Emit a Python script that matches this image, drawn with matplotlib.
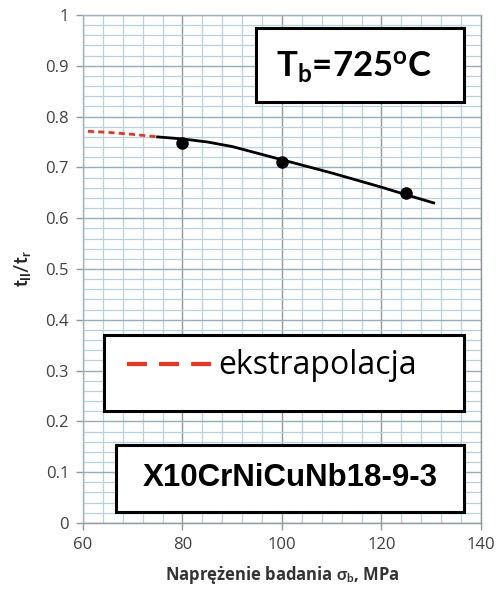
#!/usr/bin/env python3
"""
t_II/t_r versus test stress for X10CrNiCuNb18-9-3 at 725 C
"""

import matplotlib
matplotlib.use("Agg")
import matplotlib.pyplot as plt
from matplotlib.patches import Rectangle
from matplotlib.ticker import MultipleLocator

plt.rcParams['font.family'] = ['Lato', 'DejaVu Sans']
plt.rcParams['mathtext.fontset'] = 'custom'
plt.rcParams['mathtext.rm'] = 'Lato'
plt.rcParams['mathtext.it'] = 'Lato:italic'
plt.rcParams['mathtext.bf'] = 'Lato:bold'
plt.rcParams['mathtext.fallback'] = 'stixsans'

# measured points
stress_pts = [80, 100, 125]
ratio_pts = [0.748, 0.710, 0.650]

# fitted curve (solid black)
fit_x = [75, 80, 85, 90, 95, 100, 105, 110, 115, 120, 125, 130.5]
fit_y = [0.760, 0.756, 0.750, 0.741, 0.728, 0.715, 0.702, 0.689, 0.675, 0.661, 0.646, 0.630]

# extrapolation (red dashed)
extra_x = [61, 65, 70, 75]
extra_y = [0.771, 0.769, 0.765, 0.760]

x_ticks = [60, 80, 100, 120, 140]
y_ticks = [0, 0.1, 0.2, 0.3, 0.4, 0.5, 0.6, 0.7, 0.8, 0.9, 1]
y_labels = ['0', '0.1', '0.2', '0.3', '0.4', '0.5', '0.6', '0.7', '0.8', '0.9', '1']

temp_label = r'T$_\mathbf{b}$=725$^\mathbf{o}$C'
legend_label = 'ekstrapolacja'
material_label = 'X10CrNiCuNb18-9-3'

RED = '#f0321e'
TICK_COLOR = '#404040'

fig = plt.figure(figsize=(4.99, 5.90), dpi=100)
ax = fig.add_axes([0.1663, 0.1136, 0.7976, 0.8610])

ax.set_xlim(60, 140)
ax.set_ylim(0, 1)
ax.set_xticks(x_ticks)
ax.set_yticks(y_ticks)
ax.set_yticklabels(y_labels)
ax.xaxis.set_minor_locator(MultipleLocator(4))
ax.yaxis.set_minor_locator(MultipleLocator(0.02))

# grid
ax.grid(which='minor', color='#b5d2de', linewidth=0.9)
ax.grid(which='major', axis='x', color='#8f9a9e', linewidth=1.0)
ax.grid(which='major', axis='y', color='#92b0bc', linewidth=1.0)
ax.set_axisbelow(True)
ax.tick_params(which='minor', length=0)
ax.tick_params(which='major', length=5, width=1, color='#8f9a9e',
               labelsize=12, labelcolor=TICK_COLOR, pad=5)
for lbl in ax.get_xticklabels() + ax.get_yticklabels():
    lbl.set_family(['Open Sans', 'DejaVu Sans'])
for side in ['left', 'bottom', 'top', 'right']:
    ax.spines[side].set_color('#9fb4bc')
    ax.spines[side].set_linewidth(1.0)
ax.spines['bottom'].set_color('#8f9a9e')
ax.spines['right'].set_color('#8f9a9e')

# curves
ax.plot(extra_x, extra_y, color=RED, linewidth=2.0, dashes=(2.2, 1.5), zorder=3)
ax.plot(fit_x, fit_y, color='black', linewidth=2.0, zorder=3)
ax.plot(stress_pts, ratio_pts, 'o', color='black', markersize=8, zorder=4)

ax.set_xlabel('Naprężenie badania $\\mathbf{\\sigma_b}$, MPa', fontsize=12,
              fontweight='bold', family=['Open Sans', 'DejaVu Sans'],
              color='#333333', labelpad=8)
ax.set_ylabel(r'$\mathbf{t_{II}/t_r}$', fontsize=13, color='#222222', labelpad=9)

# boxes
box_kw = dict(transform=ax.transAxes, facecolor='white', edgecolor='black',
              linewidth=2.2, zorder=5)
ax.add_patch(Rectangle((0.435, 0.829), 0.522, 0.145, **box_kw))
ax.add_patch(Rectangle((0.053, 0.220), 0.904, 0.150, **box_kw))
ax.add_patch(Rectangle((0.083, 0.022), 0.874, 0.132, **box_kw))

ax.text(0.682, 0.897, temp_label, transform=ax.transAxes, fontsize=25,
        fontweight='bold', ha='center', va='center', zorder=6)
ax.plot([0.111, 0.324], [0.313, 0.313], transform=ax.transAxes, color=RED,
        linewidth=3.0, dashes=(4.8, 2.9), zorder=6)
ax.text(0.34, 0.310, legend_label, transform=ax.transAxes, fontsize=23,
        family=['Open Sans', 'DejaVu Sans'], ha='left', va='center', zorder=6)
ax.text(0.52, 0.089, material_label, transform=ax.transAxes, fontsize=22.5,
        fontweight='bold', family='Liberation Sans', ha='center', va='center',
        zorder=6)

plt.savefig('out.png', dpi=100)
plt.close()
